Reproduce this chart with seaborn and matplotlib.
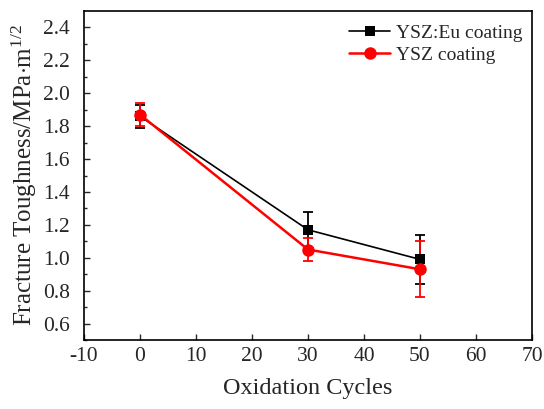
import matplotlib
matplotlib.use("Agg")
import matplotlib.pyplot as plt
import seaborn as sns
import pandas as pd
import numpy as np

cycles = [0, 30, 50]
eu_vals = [1.86, 1.17, 0.99]
eu_err = [0.07, 0.11, 0.15]
ysz_vals = [1.87, 1.05, 0.93]
ysz_err = [0.07, 0.07, 0.17]
labels = ["YSZ:Eu coating", "YSZ coating"]

sns.set_style("ticks")
plt.rcParams['font.family'] = ['Liberation Serif', 'DejaVu Serif']
plt.rcParams['mathtext.fontset'] = 'custom'
plt.rcParams['mathtext.rm'] = 'Liberation Serif'
plt.rcParams['mathtext.it'] = 'Liberation Serif:italic'
plt.rcParams['axes.unicode_minus'] = False

df = pd.DataFrame({
    "cycles": cycles * 2,
    "val": eu_vals + ysz_vals,
    "series": [labels[0]] * 3 + [labels[1]] * 3,
})

fig = plt.figure(figsize=(5.44, 4.09), dpi=100)
ax = fig.add_axes([84/544, 1 - 340/409, (532-84)/544, (340-11)/409])

colors = {labels[0]: "black", labels[1]: "red"}
styles = [(labels[0], "s", 7.5, 1.2, eu_err), (labels[1], "o", 9, 1.8, ysz_err)]
for lab, mk, ms, lw, err in styles:
    sub = df[df.series == lab]
    ax.errorbar(sub.cycles, sub.val, yerr=err, fmt="none", ecolor=colors[lab],
                elinewidth=1.3, capsize=3.5, capthick=1.3, zorder=2)
    sns.lineplot(data=sub, x="cycles", y="val", ax=ax, color=colors[lab],
                 marker=mk, markersize=ms, markeredgewidth=0, linewidth=lw,
                 label=lab, zorder=3)

ax.set_xlim(-10, 70)
ax.set_ylim(0.5, 2.5)
ax.set_xticks(np.arange(-10, 71, 10))
ax.set_yticks(np.arange(0.6, 2.41, 0.2))
ax.set_yticks(np.arange(0.5, 2.5, 0.2), minor=True)
ax.set_yticklabels([f"{v:.1f}" for v in np.arange(0.6, 2.41, 0.2)])
ax.tick_params(axis="both", which="major", direction="in", length=4, width=1,
               labelsize=15.5, top=False, right=False)
ax.tick_params(axis="x", which="major", pad=5)
ax.tick_params(axis="y", which="major", pad=10)
ax.tick_params(axis="y", which="minor", direction="in", length=2.5, width=1)
for s in ax.spines.values():
    s.set_visible(True)
    s.set_linewidth(1.2)
    s.set_color("black")

ax.set_xlabel("Oxidation Cycles", fontsize=17.5, labelpad=9)
ax.set_ylabel(r"Fracture Toughness/MPa$\cdot$m$^{1/2}$", fontsize=18, labelpad=3)

leg = ax.legend(loc="upper right", bbox_to_anchor=(1.0, 0.988), frameon=False,
                fontsize=14, handlelength=2.1, handletextpad=0.3,
                labelspacing=0.2, borderaxespad=0.1)

fig.savefig("out.png", dpi=100)
